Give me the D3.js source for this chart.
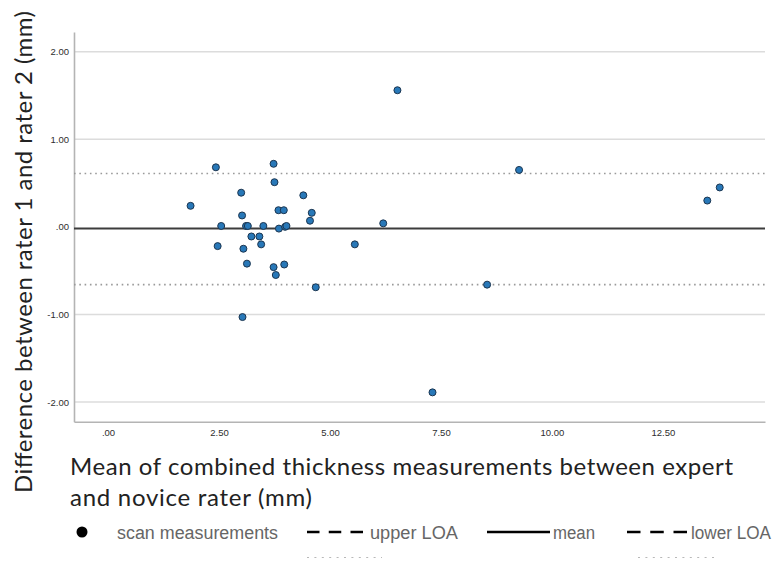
<!DOCTYPE html>
<html>
<head>
<meta charset="utf-8">
<script src="https://cdn.jsdelivr.net/npm/d3@7/dist/d3.min.js"></script>
<style>
  html, body { margin: 0; padding: 0; background: #ffffff; }
  svg { display: block; }
</style>
</head>
<body>
<svg id="chart" width="777" height="567"></svg>
<script>
// Bland–Altman data: mean of the two raters (x) and their difference (y)
const meanThickness = [
  2.43, 3.73, 3.75, 3.00, 4.40, 1.86, 3.84, 3.96, 4.59, 3.02,
  4.55, 6.20, 2.55, 3.11, 3.15, 3.50, 3.85, 3.99, 4.02, 3.23,
  3.41, 5.56, 2.47, 3.05, 3.45, 3.13, 3.97, 3.73, 3.78, 4.68,
  3.03, 9.26, 13.50, 13.78, 8.54, 7.31, 6.52
];
const raterDiff = [
  0.68, 0.72, 0.51, 0.39, 0.36, 0.24, 0.19, 0.19, 0.16, 0.13,
  0.07, 0.04, 0.01, 0.01, 0.01, 0.01, -0.02, 0.00, 0.01, -0.11,
  -0.11, -0.20, -0.22, -0.25, -0.20, -0.42, -0.43, -0.46, -0.55, -0.69,
  -1.03, 0.65, 0.30, 0.45, -0.66, -1.89, 1.56
];

// Reference lines: bias and limits of agreement
const refNames  = ["upper LOA", "mean", "lower LOA"];
const refValues = [0.61, -0.02, -0.66];

// Axis ticks
const xTickValues = [0, 2.5, 5, 7.5, 10, 12.5];
const xTickLabels = [".00", "2.50", "5.00", "7.50", "10.00", "12.50"];
const yTickValues = [2, 1, 0, -1, -2];
const yTickLabels = ["2.00", "1.00", ".00", "-1.00", "-2.00"];

const xTitleLines = ["Mean of combined thickness measurements between expert", "and novice rater (mm)"];
const yTitle = "Difference between rater 1 and rater 2 (mm)";
const legendLabels = ["scan measurements", "upper LOA", "mean", "lower LOA"];

const svg = d3.select("#chart");

const plot = { left: 74, right: 765, top: 32, bottom: 421.7 };

const x = d3.scaleLinear().domain([-0.766, 14.8]).range([plot.left, plot.right]);
const y = d3.scaleLinear().domain([-2.225, 2.225]).range([plot.bottom, plot.top]);

// Horizontal gridlines
svg.append("g")
  .selectAll("line")
  .data(yTickValues.filter(v => v !== 0))
  .join("line")
  .attr("x1", plot.left).attr("x2", plot.right)
  .attr("y1", d => y(d)).attr("y2", d => y(d))
  .attr("stroke", "#dcdcdc")
  .attr("stroke-width", 1.5);

// Axes
const tickFont = "'Liberation Sans', Arial, sans-serif";
const yAxis = svg.append("g")
  .attr("transform", `translate(${plot.left},0)`)
  .call(d3.axisLeft(y).tickValues(yTickValues).tickSize(0).tickPadding(5)
    .tickFormat((d, i) => yTickLabels[i]));
const xAxis = svg.append("g")
  .attr("transform", `translate(0,${plot.bottom})`)
  .call(d3.axisBottom(x).tickValues(xTickValues).tickSize(0).tickPadding(8)
    .tickFormat((d, i) => xTickLabels[i]));

[yAxis, xAxis].forEach(ax => {
  ax.select(".domain").attr("stroke", "#b4b4b4").attr("stroke-width", 1.6);
  ax.selectAll("text")
    .attr("fill", "#2e2e2e")
    .style("font-family", tickFont)
    .style("font-size", "9.5px");
});

// Limits of agreement (dotted) and mean difference (solid)
svg.append("g")
  .selectAll("line")
  .data(refValues)
  .join("line")
  .attr("x1", plot.left).attr("x2", plot.right)
  .attr("y1", d => y(d)).attr("y2", d => y(d))
  .attr("stroke", (d, i) => i === 1 ? "#3c3c3c" : "#9a9a9a")
  .attr("stroke-width", (d, i) => i === 1 ? 2 : 1.6)
  .attr("stroke-dasharray", (d, i) => i === 1 ? null : "1.6,3.7");

// Scatter points
svg.append("g")
  .selectAll("circle")
  .data(meanThickness.map((m, i) => [m, raterDiff[i]]))
  .join("circle")
  .attr("cx", d => x(d[0]))
  .attr("cy", d => y(d[1]))
  .attr("r", 3.5)
  .attr("fill", "#2878b8")
  .attr("stroke", "#1b3550")
  .attr("stroke-width", 1);

// Axis titles
const titleFont = "Lato, 'Open Sans', sans-serif";
const xTitle = svg.append("g").attr("fill", "#222");
xTitle.append("text")
  .attr("x", 70).attr("y", 475)
  .attr("textLength", 663).attr("lengthAdjust", "spacing")
  .style("font-family", titleFont).style("font-size", "24px")
  .text(xTitleLines[0]);
xTitle.append("text")
  .attr("x", 70).attr("y", 505.5)
  .attr("textLength", 242).attr("lengthAdjust", "spacing")
  .style("font-family", titleFont).style("font-size", "24px")
  .text(xTitleLines[1]);

svg.append("text")
  .attr("transform", "translate(32,493) rotate(-90)")
  .attr("x", 0).attr("y", 0)
  .attr("textLength", 482).attr("lengthAdjust", "spacing")
  .attr("fill", "#222")
  .style("font-family", titleFont).style("font-size", "24px")
  .text(yTitle);

// Legend
const lg = svg.append("g");
const legendFont = "'Liberation Sans Narrow', 'Liberation Sans', Arial, sans-serif";
const legendY = 532;

lg.append("circle").attr("cx", 82).attr("cy", legendY).attr("r", 5.5).attr("fill", "#000");

const swatches = [
  { x1: 307, x2: 363, dash: "12.5,9.25" },
  { x1: 487, x2: 550, dash: null },
  { x1: 627, x2: 687, dash: "13.5,9.75" }
];
lg.selectAll("line.sw")
  .data(swatches)
  .join("line")
  .attr("class", "sw")
  .attr("x1", d => d.x1).attr("x2", d => d.x2)
  .attr("y1", legendY).attr("y2", legendY)
  .attr("stroke", "#000")
  .attr("stroke-width", 2.6)
  .attr("stroke-dasharray", d => d.dash);

// Faint dotted companions under the LOA swatches
lg.selectAll("line.dot")
  .data([[307, 382], [638, 715]])
  .join("line")
  .attr("class", "dot")
  .attr("x1", d => d[0]).attr("x2", d => d[1])
  .attr("y1", 557.5).attr("y2", 557.5)
  .attr("stroke", "#b8b8b8")
  .attr("stroke-width", 1.1)
  .attr("stroke-dasharray", "2,5.4");

const legendText = [
  { x: 117, w: 161 },
  { x: 370, w: 88 },
  { x: 553, w: 42 },
  { x: 691, w: 80 }
];
lg.selectAll("text")
  .data(legendLabels)
  .join("text")
  .attr("x", (d, i) => legendText[i].x)
  .attr("y", legendY + 6.5)
  .attr("textLength", (d, i) => legendText[i].w)
  .attr("lengthAdjust", "spacingAndGlyphs")
  .attr("fill", "#666666")
  .style("font-family", legendFont)
  .style("font-size", "18px")
  .text(d => d);
</script>
</body>
</html>
